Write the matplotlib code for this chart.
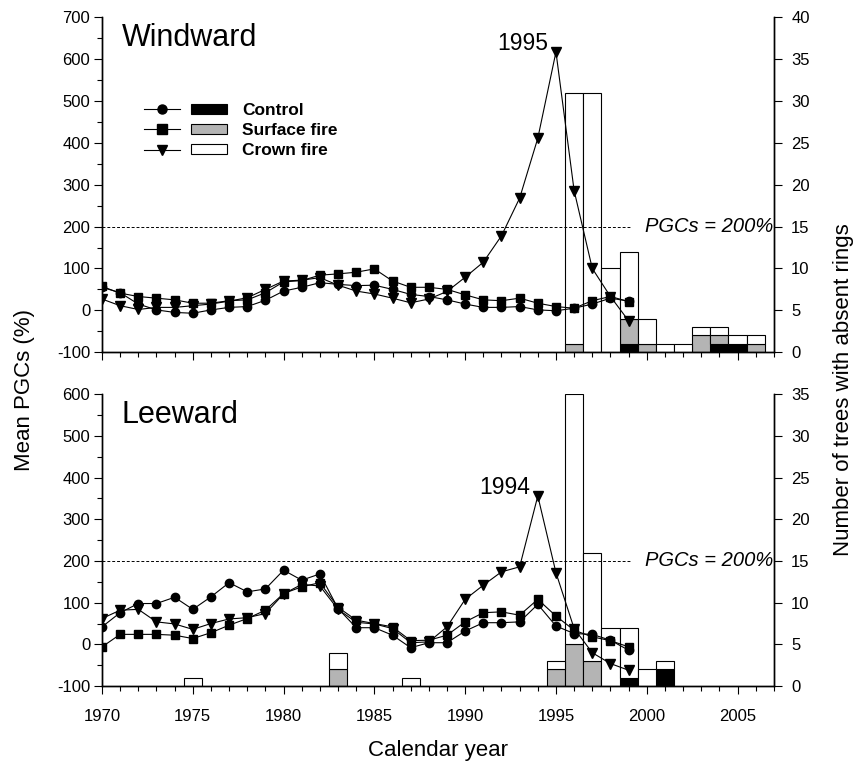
import numpy as np
import matplotlib.pyplot as plt
from matplotlib.legend_handler import HandlerTuple
from matplotlib.lines import Line2D
from matplotlib.patches import Patch
from matplotlib.ticker import MultipleLocator

plt.rcParams['font.family'] = ['Liberation Sans', 'DejaVu Sans']
plt.rcParams['axes.unicode_minus'] = False

# PGC series (years 1970-1999)
years = np.arange(1970, 2000)

wind_control = [55, 42, 15, 1, -5, -7, 1, 7, 9, 24, 46, 55, 66, 62, 59, 60, 50, 38, 33, 25,
                15, 7, 7, 9, 1, -1, 5, 15, 29, 22]
wind_surface = [57, 41, 33, 29, 25, 17, 17, 23, 25, 42, 68, 71, 84, 87, 91, 99, 70, 55, 55, 50,
                37, 25, 23, 29, 17, 9, 5, 23, 33, 21]
wind_crown = [27, 11, 2, 7, 7, 11, 15, 22, 30, 50, 70, 72, 78, 60, 46, 39, 29, 18, 27, 45,
              79, 115, 178, 268, 411, 617, 286, 100, 33, -25]

lee_control = [42, 76, 98, 98, 113, 84, 114, 148, 126, 133, 178, 154, 169, 86, 40, 40, 22, -8, 4, 4,
               32, 52, 52, 54, 96, 44, 26, 24, 10, -14]
lee_surface = [-6, 24, 24, 24, 22, 14, 28, 46, 62, 82, 122, 138, 148, 89, 58, 50, 42, 9, 10, 22,
               54, 76, 78, 70, 108, 68, 34, 18, 9, -6]
lee_crown = [62, 82, 84, 54, 49, 36, 50, 61, 64, 74, 121, 144, 140, 84, 53, 49, 38, 4, 6, 42,
             108, 142, 174, 186, 356, 172, 38, -20, -46, -62]

# number of trees with absent rings
wind_bar_years = np.arange(1996, 2007)
wind_bar_control = np.array([0, 0, 0, 1, 0, 0, 0, 0, 1, 1, 0])
wind_bar_surface = np.array([1, 0, 0, 3, 1, 0, 0, 2, 1, 0, 1])
wind_bar_crown = np.array([30, 31, 10, 8, 3, 1, 1, 1, 1, 1, 1])

lee_bar_years = np.array([1975, 1983, 1987, 1995, 1996, 1997, 1998, 1999, 2000, 2001])
lee_bar_control = np.array([0, 0, 0, 0, 0, 0, 0, 1, 0, 2])
lee_bar_surface = np.array([0, 2, 0, 2, 5, 3, 0, 0, 0, 0])
lee_bar_crown = np.array([1, 2, 1, 1, 30, 13, 7, 6, 2, 1])

GRAY = '#b4b4b4'
LW = 0.8
MS = 6.5


def draw_panel(ax, title, pgc, bars, ylim, rlim, peak_year, peak_label):
    axr = ax.twinx()
    ax.set_zorder(axr.get_zorder() + 1)
    ax.patch.set_visible(False)

    by, bc, bs, bw = bars
    axr.bar(by, bc, width=1, color='black', edgecolor='black', lw=LW)
    axr.bar(by, bs, width=1, bottom=bc, color=GRAY, edgecolor='black', lw=LW)
    axr.bar(by, bw, width=1, bottom=bc + bs, color='white', edgecolor='black', lw=LW)

    ctrl, surf, crown = pgc
    ax.plot(years, crown, '-v', color='k', ms=MS, lw=LW)
    ax.plot(years, surf, '-s', color='k', ms=MS - 0.5, lw=LW)
    ax.plot(years, ctrl, '-o', color='k', ms=MS - 0.5, lw=LW)

    ax.hlines(200, 1970, 1999.1, colors='k', linestyles=(0, (3, 2)), lw=0.7)
    ax.text(2006.95, 200, 'PGCs = 200%', ha='right', va='center', style='italic', fontsize=14.5)

    i = list(years).index(peak_year)
    ax.text(peak_year - 0.4, crown[i] + 20, peak_label, ha='right', va='center', fontsize=16.5)
    ax.text(1971.1, ylim[1] - 50, title, ha='left', va='center', fontsize=22)

    ax.set_xlim(1970, 2007)
    ax.set_ylim(*ylim)
    axr.set_ylim(*rlim)
    ax.xaxis.set_major_locator(MultipleLocator(5))
    ax.xaxis.set_minor_locator(MultipleLocator(1))
    ax.yaxis.set_major_locator(MultipleLocator(100))
    ax.yaxis.set_minor_locator(MultipleLocator(50))
    axr.yaxis.set_major_locator(MultipleLocator(5))

    for a in (ax, axr):
        a.spines['top'].set_visible(False)
        for s in a.spines.values():
            s.set_linewidth(1.0)
        a.tick_params(which='major', direction='out', length=5.5, width=0.8, labelsize=12, pad=7)
        a.tick_params(which='minor', direction='out', length=3.5, width=0.8)
    ax.tick_params(axis='y', which='major', pad=3)
    ax.tick_params(axis='x', which='major', pad=11)
    return axr


fig = plt.figure(figsize=(8.57, 7.64), dpi=100)
ax_w = fig.add_axes([0.119, 0.539, 0.784, 0.4385])
ax_l = fig.add_axes([0.119, 0.102, 0.784, 0.382])

draw_panel(ax_w, 'Windward', (wind_control, wind_surface, wind_crown),
           (wind_bar_years, wind_bar_control, wind_bar_surface, wind_bar_crown),
           (-100, 700), (0, 40), 1995, '1995')
draw_panel(ax_l, 'Leeward', (lee_control, lee_surface, lee_crown),
           (lee_bar_years, lee_bar_control, lee_bar_surface, lee_bar_crown),
           (-100, 600), (0, 35), 1994, '1994')

ax_w.tick_params(axis='x', labelbottom=False)

# legend: line sample + bar sample per treatment
handles = []
for m, c in [('o', 'black'), ('s', GRAY), ('v', 'white')]:
    ln = Line2D([], [], color='k', marker=m, ms=MS, lw=LW)
    pt = Patch(facecolor=c, edgecolor='black', lw=LW)
    handles.append((ln, pt))
ax_w.legend(handles, ['Control', 'Surface fire', 'Crown fire'],
            handler_map={tuple: HandlerTuple(ndivide=None, pad=0.63)},
            handlelength=4.8, handleheight=0.5, labelspacing=0.29, handletextpad=0.85,
            prop={'weight': 'bold', 'size': 12.5}, frameon=False,
            loc='upper left', bbox_to_anchor=(144 / 857, 1 - 103 / 764),
            bbox_transform=fig.transFigure, borderaxespad=0, borderpad=0)

fig.text(0.029, 0.49, 'Mean PGCs (%)', rotation=90, ha='center', va='center', fontsize=16)
fig.text(0.984, 0.49, 'Number of trees with absent rings', rotation=90,
         ha='center', va='center', fontsize=16)
fig.text(0.511, 0.018, 'Calendar year', ha='center', va='center', fontsize=16)

fig.savefig('out.png', dpi=100)
